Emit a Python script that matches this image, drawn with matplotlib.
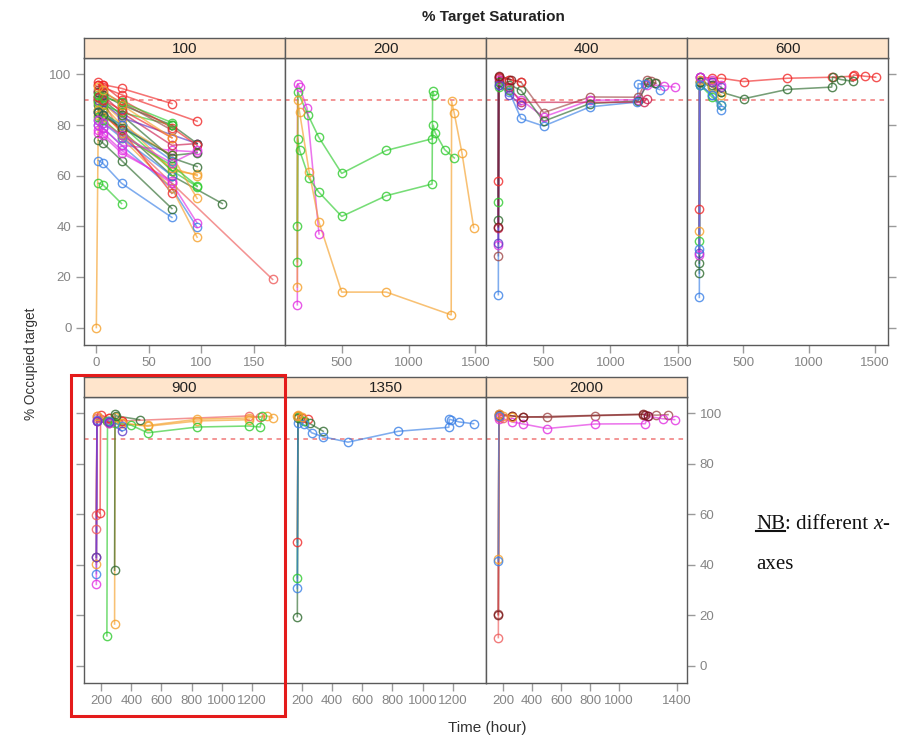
import matplotlib
matplotlib.use("Agg")
import matplotlib.pyplot as plt
from matplotlib.patches import Rectangle
from matplotlib.lines import Line2D

plt.rcParams['font.family'] = ['Liberation Sans', 'DejaVu Sans']

# ---------------------------------------------------------------- data
# Each subject: (colour group, time in hours, % occupied target)
P100 = [
    ("red", [2, 6, 24, 72], [97, 96, 94.5, 88.5]),
    ("red", [2, 6, 24, 96], [96, 95, 92, 81.5]),
    ("salmon", [2, 6, 24, 72, 168], [91, 90, 76, 57, 19]),
    ("orange", [0, 2, 6, 24, 72, 96], [0, 90, 89, 82, 62, 60.5]),
    ("dkgreen", [2, 6, 24, 72, 120], [88, 86, 78, 60, 49]),
    ("green", [2, 6, 24], [57, 56.5, 49]),
    ("blue", [2, 6, 24, 72], [66, 65, 57, 43.5]),
    ("dkgreen", [2, 6, 24, 72], [74, 73, 66, 47]),
    ("blue", [2, 6, 24, 72, 96], [80, 79, 72, 55, 39.6]),
    ("magenta", [2, 6, 24, 72, 96], [78, 77, 70, 57, 41.3]),
    ("orange", [2, 6, 24, 72, 96], [84, 83, 75, 55, 35.7]),
    ("magenta", [2, 6, 24, 72, 96], [80, 79, 72, 70, 69.4]),
    ("dkgreen", [2, 6, 24, 72, 96], [91, 90, 84, 67, 63.6]),
    ("green", [2, 6, 24, 72, 96], [86, 85, 80, 62, 55.7]),
    ("orange", [2, 6, 24, 72, 96], [89, 88, 80, 68, 51]),
    ("crimson", [2, 6, 24, 72, 96], [93, 92, 85, 72, 72.7]),
    ("purple", [2, 6, 24, 96], [90, 89, 83, 72.7]),
    ("dkgreen", [2, 6, 24, 72, 96], [93, 92, 88, 80, 72.7]),
    ("green", [2, 6, 24, 72], [89, 88, 85, 80]),
    ("red", [2, 6, 24, 72], [91, 90, 86, 75]),
    ("brown", [2, 6, 24, 72], [94, 93, 89, 78]),
    ("blue", [2, 6, 24, 72], [82, 81, 75, 60]),
    ("magenta", [2, 6, 24, 72], [77, 76, 69, 58]),
    ("orange", [2, 6, 24, 72, 96], [86, 85, 77, 63, 60]),
    ("green", [2, 6, 24, 72, 96], [83, 82, 76, 64, 56]),
    ("red", [2, 6, 24, 72], [85, 84, 78, 53]),
    ("blue", [2, 6, 24, 72], [85, 84, 80, 66]),
    ("red", [2, 6, 24, 72, 96], [96, 96, 90, 79, 72]),
    ("dkgreen", [2, 6, 24, 72, 96], [85, 84, 79, 68, 69]),
    ("magenta", [2, 6, 24, 72, 96], [82, 81, 76, 65, 70]),
    ("green", [2, 6, 24, 72], [92, 91, 89, 81]),
    ("orange", [2, 6, 24, 72], [95, 94, 88, 75]),
]

P200 = [
    ("magenta", [168, 170, 185, 240, 330], [9, 96.3, 95, 86.7, 37]),
    ("green", [168, 172, 248, 327, 500, 834, 1178, 1185, 1199, 1270, 1342],
     [40.2, 93, 84, 75.3, 60.9, 70, 74.6, 79.9, 77, 70.3, 67]),
    ("green", [168, 170, 185, 257, 327, 500, 834, 1176, 1180, 1190],
     [26, 74.6, 70, 58.9, 53.6, 43.9, 52.1, 56.7, 93.3, 92]),
    ("orange", [168, 170, 185, 257, 330, 500, 834, 1319, 1322, 1342, 1400, 1487],
     [16, 89.8, 85, 61.3, 41.6, 14, 14, 5, 89.4, 84.6, 68.8, 39.5]),
]

P400 = [
    ("brown", [168, 170, 250, 336, 504, 849, 1206, 1268, 1300, 1340],
     [28.4, 99, 98, 97, 84.9, 91.1, 91, 98, 97.5, 96.5]),
    ("magenta", [168, 170, 250, 336, 504, 849, 1206, 1270, 1400, 1477],
     [32.5, 98, 94, 90, 83.2, 89.8, 90, 96, 95.5, 95]),
    ("dkgreen", [168, 170, 250, 336, 504, 849, 1206, 1280, 1330],
     [42.6, 97, 96, 93.7, 81.5, 88.5, 89.5, 97, 96.5]),
    ("blue", [168, 170, 250, 336, 504, 849, 1200, 1206, 1260, 1366],
     [13, 96, 93, 82.6, 79.6, 87.2, 89.1, 96.3, 96.3, 94]),
    ("red", [168, 170, 250, 336], [58, 99, 98, 97]),
    ("green", [168, 170, 250], [49.7, 95, 94]),
    ("crimson", [168, 170, 250, 336, 1250, 1268], [39.5, 98.5, 95, 89, 89, 90.4]),
    ("purple", [168, 170, 250, 336], [33.3, 96, 92, 88]),
    ("maroon", [168, 172, 260], [39.9, 99.5, 98]),
]

P600 = [
    ("red", [168, 170, 266, 334, 505, 837, 1173, 1336, 1340, 1424, 1507],
     [46.9, 99, 98.5, 98.5, 97.2, 98.5, 98.9, 99.3, 99.8, 99.3, 98.9]),
    ("dkgreen", [168, 170, 266, 334, 505, 837, 1173, 1180, 1243, 1336],
     [21.5, 97, 95, 93, 90.4, 94.1, 95, 99, 98, 97.3]),
    ("blue", [168, 170, 266, 334], [11.9, 96, 92, 85.8]),
    ("dkgreen", [168, 170, 266, 334], [25.4, 97, 96, 93]),
    ("green", [168, 170, 266, 334], [34.3, 96, 91, 88]),
    ("orange", [168, 170, 266, 334], [38.2, 98, 95, 91.7]),
    ("purple", [168, 170, 266, 334], [29.4, 99, 97, 95]),
    ("magenta", [168, 170, 266, 334], [28.8, 99, 98, 96]),
    ("blue", [168, 170, 266, 334], [31.1, 96, 92, 87.8]),
]

P900 = [
    ("salmon", [168, 172, 250, 340, 1182, 1255], [59.8, 99, 98, 97, 99, 98.5]),
    ("red", [193, 196, 250, 340], [60.4, 99.5, 98, 97]),
    ("salmon", [168, 172, 240], [54.2, 98, 97]),
    ("brown", [168, 172, 250], [43, 97, 96]),
    ("orange", [168, 172, 250, 340, 509, 838, 1182, 1300, 1338],
     [40.2, 99, 97, 96, 95.2, 97.7, 98.2, 99, 98.3]),
    ("orange", [289, 292, 340, 509, 838, 1182], [16.5, 98.5, 96, 94.9, 97, 97.5]),
    ("green", [238, 242, 290, 400, 509, 838, 1182, 1255, 1270],
     [11.8, 97, 96, 95.3, 92.3, 94.6, 95, 94.6, 99]),
    ("dkgreen", [289, 292, 300, 455], [37.8, 99.7, 99, 97.5]),
    ("blue", [168, 172, 250, 340], [36.5, 97.5, 97, 95]),
    ("magenta", [168, 172, 250], [32.2, 97, 96]),
    ("purple", [168, 172, 250, 338], [43, 97, 96.5, 92.9]),
]

P1350 = [
    ("red", [168, 172, 200, 240], [48.9, 99, 98, 97.9]),
    ("green", [168, 172, 210], [34.8, 98.5, 97]),
    ("dkgreen", [168, 172, 250, 340], [19.4, 98, 96, 92.9]),
    ("blue", [168, 172, 210, 264, 340, 505, 838, 1175, 1178, 1190, 1244, 1340],
     [30.6, 96.2, 95.6, 92.3, 90.7, 88.6, 92.9, 94.5, 97.7, 97.5, 96.6, 95.9]),
    ("orange", [168, 172, 200], [99, 99.5, 98.5]),
]

P2000 = [
    ("brown", [168, 172, 264, 340, 504, 835, 1166, 1257, 1337],
     [20.4, 99.7, 99, 98.7, 98.4, 99.1, 99.5, 99.3, 99.5]),
    ("magenta", [170, 172, 264, 340, 504, 835, 1180, 1200, 1300, 1383],
     [97.9, 98.5, 96.6, 95.8, 94, 95.8, 95.9, 98.8, 97.9, 97.5]),
    ("maroon", [168, 172, 260, 340, 1166, 1180, 1200], [20.1, 99.5, 99, 98.5, 99.7, 99.5, 99]),
    ("orange", [168, 172, 200, 260], [42.4, 99.7, 99, 98.5]),
    ("salmon", [168, 172, 200], [11.1, 98.5, 98]),
    ("blue", [168, 172], [41.5, 99]),
]

panel_labels = ["100", "200", "400", "600", "900", "1350", "2000"]
panel_data = [P100, P200, P400, P600, P900, P1350, P2000]
x_ticks = [
    [0, 50, 100, 150],
    [500, 1000, 1500],
    [500, 1000, 1500],
    [500, 1000, 1500],
    [200, 400, 600, 800, 1000, 1200],
    [200, 400, 600, 800, 1000, 1200],
    [200, 400, 600, 800, 1000, 1400],
]
y_ticks = [0, 20, 40, 60, 80, 100]
target_level = 90

# ---------------------------------------------------------------- styling
palette = {
    "red": "#F02828", "salmon": "#EE5A5A", "orange": "#F5A02A",
    "green": "#2FCB2F", "dkgreen": "#2E6B2E", "blue": "#3A80E6",
    "magenta": "#E22EE2", "purple": "#6038C8", "brown": "#A04848",
    "crimson": "#CC1F50", "maroon": "#7A1818",
}

W, H = 911, 739
fig = plt.figure(figsize=(W / 100, H / 100), dpi=100)

col_left = [84, 285, 486, 687]
col_w = 201
rows = [  # (strip top, panel top, panel bottom)
    (38, 58, 345),
    (377, 397, 683),
]
frame_col = "#5a5a5a"
tick_col = "#9a9a9a"
label_col = "#858585"


def pad_range(lo, hi, frac=0.07):
    r = hi - lo
    return lo - frac * r, hi + frac * r


for i, (lab, data) in enumerate(zip(panel_labels, panel_data)):
    r = 0 if i < 4 else 1
    c = i if i < 4 else i - 4
    st, pt, pb = rows[r]
    x0 = col_left[c]
    ax = fig.add_axes([x0 / W, 1 - pb / H, col_w / W, (pb - pt) / H])
    sax = fig.add_axes([x0 / W, 1 - pt / H, col_w / W, (pt - st) / H])

    # strip
    sax.set_facecolor("#ffe5cc")
    sax.set_xticks([]); sax.set_yticks([])
    for s in sax.spines.values():
        s.set_color(frame_col); s.set_linewidth(1.0)
    sax.text(0.5, 0.45, lab, ha="center", va="center", fontsize=11,
             color="#222222", transform=sax.transAxes)

    # subjects
    all_t = []
    for grp, t, v in data:
        col = palette[grp]
        ax.plot(t, v, color=col, lw=1.15, alpha=0.65, zorder=2)
        ax.plot(t, v, ls="none", marker="o", ms=6, mfc="none", mec=col,
                mew=1.0, alpha=0.8, zorder=3)
        all_t.extend(t)
    ax.set_xlim(*pad_range(min(all_t), max(all_t)))
    ax.set_ylim(-6.9, 106.5)
    ax.axhline(target_level, color="#F07878", ls=(0, (3, 3)), lw=1.1, zorder=1)

    for s in ax.spines.values():
        s.set_color(frame_col); s.set_linewidth(1.0)

    ax.set_xticks(x_ticks[i])
    ax.set_xticklabels([str(t) for t in x_ticks[i]])
    ax.set_yticks(y_ticks)
    ax.tick_params(axis="both", direction="out", length=6, width=1.0,
                   color=tick_col, labelcolor=label_col, labelsize=9.5, pad=3)

    # y axis ticks alternate between outer left and outer right panels
    left_on = (c == 0)
    right_on = (i == 3) or (i == 6)
    ax.tick_params(axis="y", left=left_on, right=right_on,
                   labelleft=(i == 0), labelright=(i == 6))

# title and axis labels
fig.text(493 / W, 1 - 17 / H, "% Target Saturation", ha="center", va="center",
         fontsize=11, fontweight="bold", color="#222222")
fig.text(487 / W, 1 - 728 / H, "Time (hour)", ha="center", va="center",
         fontsize=11, color="#333333")
fig.text(31 / W, 1 - 364 / H, "% Occupied target", ha="center", va="center",
         rotation=90, fontsize=9.8, color="#333333")

# highlight frame around the 900 panel
fig.patches.append(Rectangle((71 / W, 1 - 716 / H), (285 - 71) / W, (716 - 375) / H,
                             transform=fig.transFigure, fill=False,
                             edgecolor="#E41B1B", lw=2.2, zorder=10))

# side note in serif type
serif = ["Liberation Serif", "DejaVu Serif"]
fs_note = 15
t1 = fig.text(756 / W, 1 - 534 / H, "NB", fontsize=fs_note, family=serif,
              color="#111111", ha="left", va="bottom")
fig.canvas.draw()
rend = fig.canvas.get_renderer()
bb1 = t1.get_window_extent(rend)
a2 = fig.text(bb1.x1 / fig.bbox.width, bb1.y0 / fig.bbox.height, ": different ",
              fontsize=fs_note, family=serif, color="#111111", ha="left", va="bottom")
fig.canvas.draw()
bb2 = a2.get_window_extent(rend)
a3 = fig.text(bb2.x1 / fig.bbox.width, bb2.y0 / fig.bbox.height, "x",
              fontsize=fs_note, family=serif, style="italic", color="#111111",
              ha="left", va="bottom")
fig.canvas.draw()
bb3 = a3.get_window_extent(rend)
fig.text(bb3.x1 / fig.bbox.width, bb3.y0 / fig.bbox.height, "-",
         fontsize=fs_note, family=serif, color="#111111", ha="left", va="bottom")
fig.text(756 / W, 1 - 574 / H, "axes", fontsize=fs_note, family=serif,
         color="#111111", ha="left", va="bottom")
uy = (bb1.y0 + 3) / fig.bbox.height
fig.lines.append(Line2D([bb1.x0 / fig.bbox.width, bb1.x1 / fig.bbox.width], [uy, uy],
                        transform=fig.transFigure, color="#111111", lw=1.5))

fig.savefig("out.png", dpi=100)
